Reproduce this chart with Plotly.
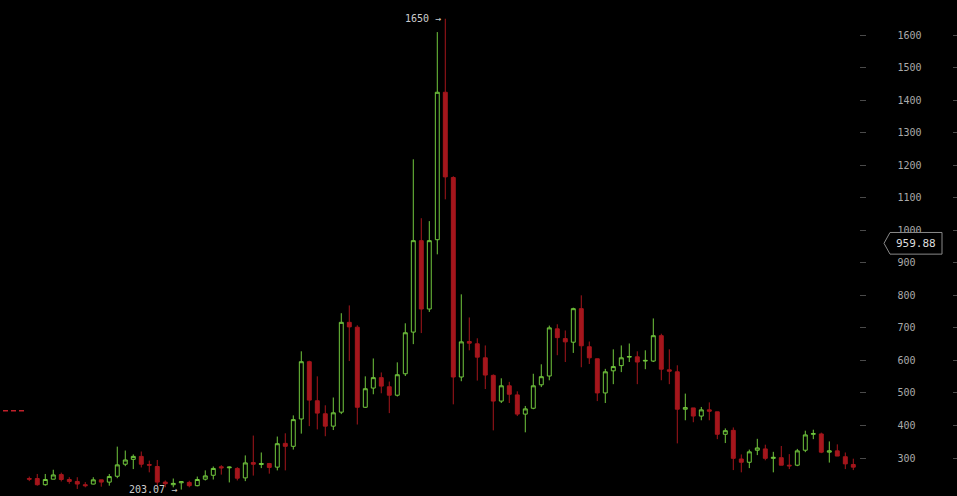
import plotly.graph_objects as go

# candle data (oldest -> newest)
opens = [237, 237, 218, 235, 249, 234, 228, 218, 220, 233, 226, 244, 281, 296, 305, 280, 274, 226, 218, 224,
         225, 215, 235, 247, 273, 270, 268, 239, 286, 280, 283, 272, 345, 336, 420, 596, 476, 436, 398, 441,
         717, 702, 456, 515, 547, 519, 493, 559, 687, 968, 758, 971, 1424, 1162, 549, 658, 651, 608, 554, 475,
         522, 494, 435, 453, 525, 552, 697, 667, 656, 759, 642, 605, 500, 568, 584, 610, 611, 598, 598, 676,
         571, 565, 450, 454, 429, 448, 442, 373, 385, 297, 287, 324, 328, 299, 301, 278, 278, 324, 373, 374,
         318, 322, 304, 280]
highs = [243, 251, 251, 264, 255, 241, 241, 226, 241, 233, 251, 335, 323, 311, 320, 292, 294, 231, 237, 229,
         230, 243, 262, 274, 278, 274, 272, 308, 369, 317, 285, 366, 376, 431, 628, 599, 551, 462, 486, 745,
         769, 708, 551, 606, 563, 535, 594, 714, 1218, 1037, 1028, 1609, 1650, 1166, 803, 732, 668, 646, 557, 545,
         534, 505, 460, 559, 588, 707, 711, 692, 762, 800, 658, 605, 574, 634, 646, 652, 628, 631, 729, 682,
         634, 585, 498, 454, 457, 471, 442, 391, 394, 311, 326, 359, 341, 319, 337, 312, 328, 384, 387, 378,
         351, 342, 317, 298]
lows = [229, 215, 215, 235, 228, 221, 205, 210, 219, 212, 215, 238, 275, 266, 271, 256, 212, 210, 210, 203.07,
        210, 213, 231, 234, 249, 225, 231, 229, 246, 269, 252, 262, 262, 326, 375, 398, 388, 367, 386, 435,
        598, 403, 454, 496, 499, 438, 489, 552, 650, 684, 749, 926, 1095, 465, 536, 631, 538, 512, 385, 469,
        469, 429, 379, 450, 518, 539, 616, 595, 623, 579, 589, 475, 469, 527, 564, 595, 527, 573, 595, 539,
        527, 345, 416, 410, 416, 416, 358, 346, 263, 256, 269, 309, 293, 256, 278, 266, 275, 318, 358, 315,
        286, 306, 266, 263]
closes = [235, 218, 234, 248, 234, 228, 220, 215, 233, 226, 243, 279, 294, 305, 281, 278, 226, 221, 222, 227,
          215, 234, 245, 268, 270, 272, 238, 285, 281, 283, 271, 344, 336, 418, 596, 478, 438, 398, 439, 717,
          703, 456, 513, 547, 521, 493, 556, 685, 968, 758, 968, 1424, 1164, 549, 657, 653, 610, 555, 475, 522,
          496, 435, 451, 522, 550, 700, 670, 657, 759, 645, 608, 500, 565, 581, 608, 612, 595, 600, 676, 573,
          567, 450, 455, 429, 448, 444, 373, 384, 299, 287, 319, 331, 299, 302, 278, 276, 322, 371, 375, 318,
          322, 306, 282, 272]

tick_vals = list(range(300, 1700, 100))
last_price = 959.88
order_level = 445

GREEN = "#72c83e"
RED = "#a5161c"
MONO = "DejaVu Sans Mono"

x_idx = list(range(len(opens)))
y_range = [183.3, 1707.6]

fig = go.Figure()
fig.add_trace(go.Candlestick(
    x=x_idx, open=opens, high=highs, low=lows, close=closes,
    increasing=dict(line=dict(color=GREEN, width=1), fillcolor="#000000"),
    decreasing=dict(line=dict(color=RED, width=1), fillcolor=RED),
    whiskerwidth=0,
    showlegend=False,
))
# dummy trace so the right-edge tick axis is drawn
fig.add_trace(go.Scatter(x=[None], y=[None], yaxis="y2", showlegend=False, hoverinfo="skip"))

# high / low labels
i_hi = highs.index(max(highs))
i_lo = lows.index(min(lows))
for i, val in [(i_hi, highs[i_hi]), (i_lo, lows[i_lo])]:
    fig.add_annotation(x=i, y=val, xref="x", yref="y", text=f"{val:g} →", showarrow=False,
                       xanchor="right", yanchor="middle", xshift=-2,
                       font=dict(family=MONO, size=10, color="#cccccc"))

# price tag box
tip, left, right = 884 / 957, 890 / 957, 942 / 957
half = 33.3
fig.add_shape(type="path", xref="paper", yref="y", layer="above",
              path=f"M {left},{last_price + half} L {right},{last_price + half} L {right},{last_price - half} "
                   f"L {left},{last_price - half} L {tip},{last_price} Z",
              line=dict(color="#8a8a8a", width=1), fillcolor="#000000")
fig.add_annotation(x=(left + right) / 2, y=last_price, xref="paper", yref="y", text=f"{last_price:.2f}",
                   showarrow=False, xanchor="center", yanchor="middle",
                   font=dict(family=MONO, size=11, color="#dddddd"))

# short dashed line at left edge
fig.add_shape(type="line", xref="paper", yref="y", x0=3 / 957, x1=25 / 957, y0=order_level, y1=order_level,
              line=dict(color="#c0202a", width=1.5, dash="5px,3px"))

fig.update_layout(
    template="none",
    width=957, height=496,
    margin=dict(l=0, r=0, t=0, b=0),
    paper_bgcolor="#000000", plot_bgcolor="#000000",
    showlegend=False,
    xaxis=dict(domain=[0, 858.5 / 957], range=[-3.66, 103.65], visible=False,
               rangeslider=dict(visible=False), showgrid=False, zeroline=False),
    yaxis=dict(side="right", anchor="x", range=y_range, tickvals=tick_vals,
               ticks="outside", ticklen=6, tickcolor="#4a4a4a", tickwidth=1,
               ticklabelstandoff=30, automargin=False,
               tickfont=dict(family=MONO, size=10, color="#aaaaaa"),
               showgrid=False, zeroline=False, showline=False),
    yaxis2=dict(overlaying="y", anchor="free", position=1, side="right", range=y_range,
                tickvals=tick_vals, ticks="inside", ticklen=4, tickcolor="#4a4a4a",
                showticklabels=False, showgrid=False, zeroline=False, showline=False,
                automargin=False),
)

# page margin off so the figure fills the window
fig.write_html("out.html", config={"displayModeBar": False},
               post_script="document.body.style.margin='0px';document.body.style.background='#000';")
